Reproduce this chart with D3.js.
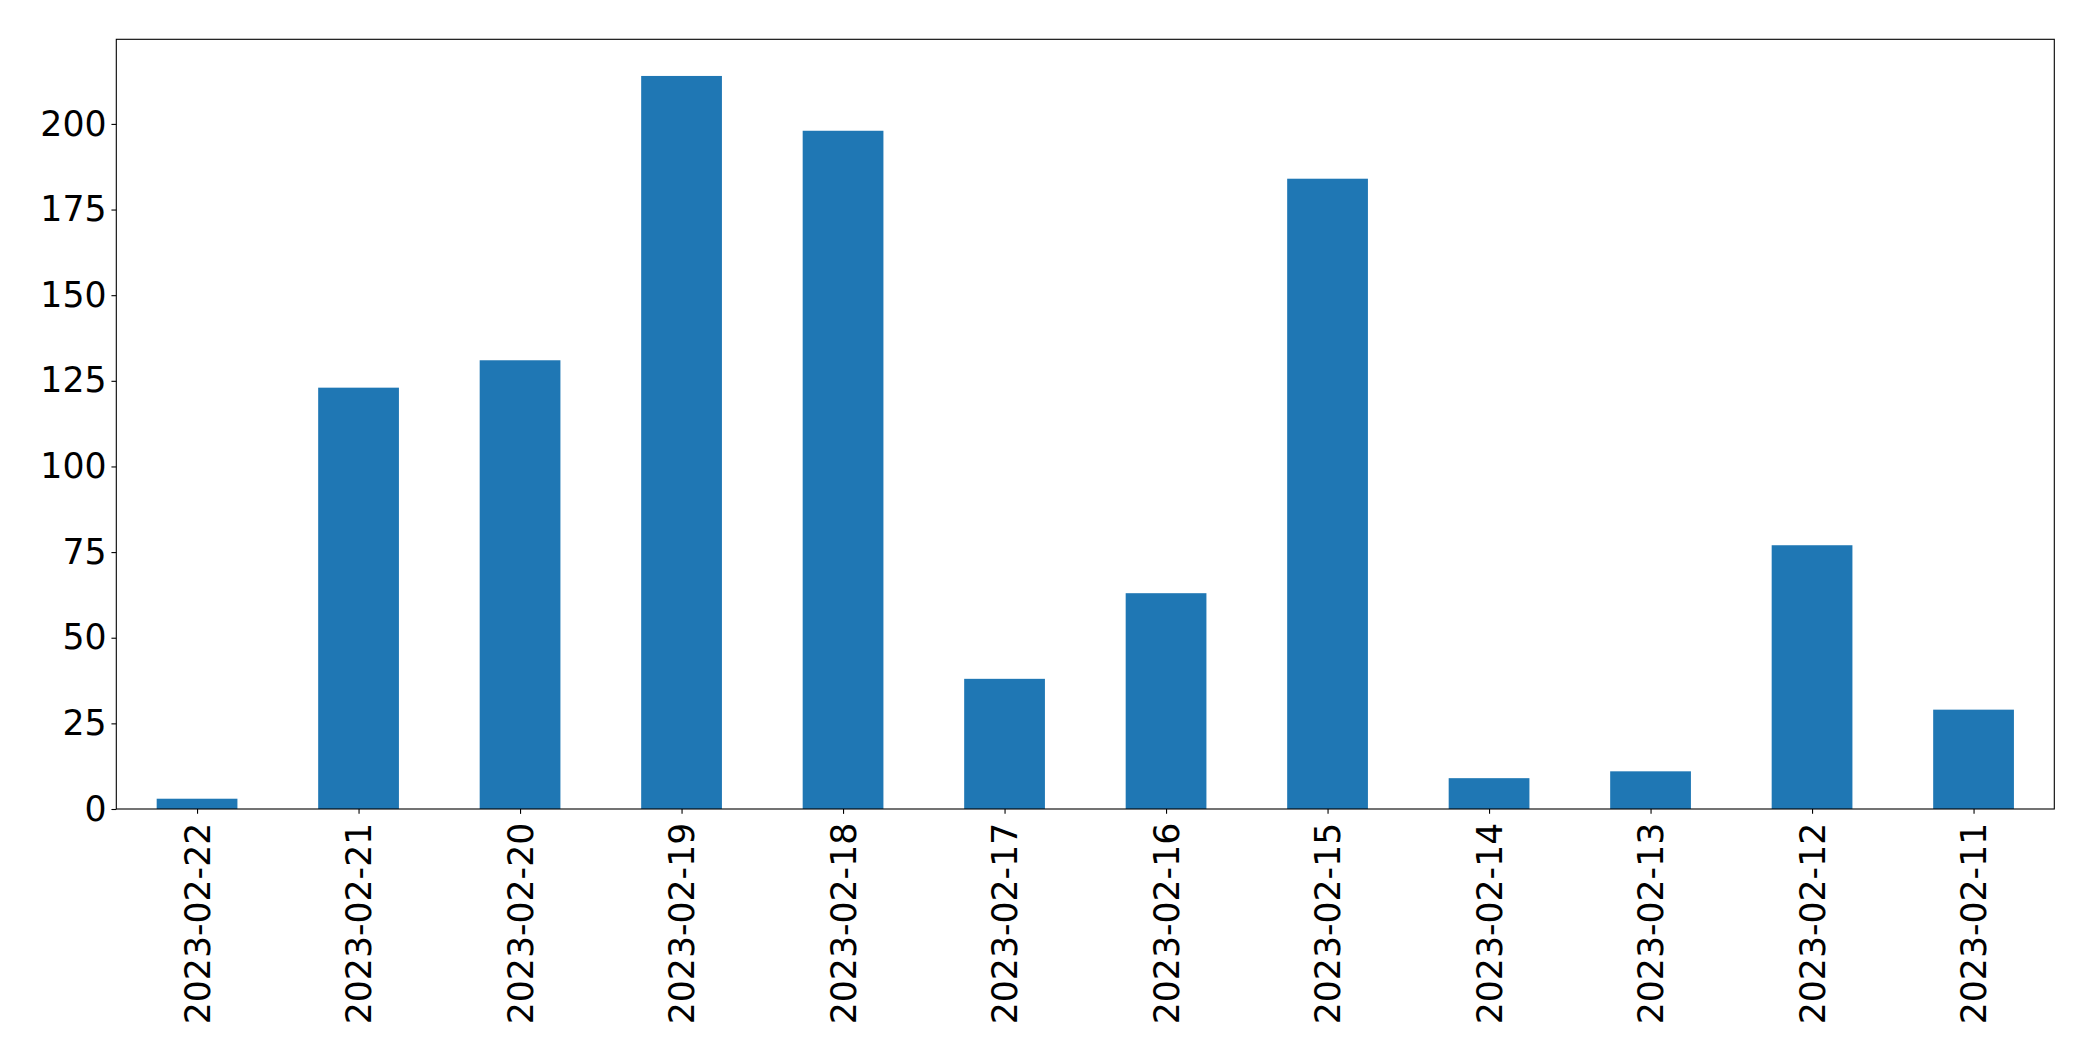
<!DOCTYPE html>
<html>
<head>
<meta charset="utf-8">
<script src="https://cdn.jsdelivr.net/npm/d3@7"></script>
<style>
  html, body { margin: 0; padding: 0; background: #fff; }
  svg { display: block; }
  text { font-family: "DejaVu Sans", sans-serif; fill: #000; }
</style>
</head>
<body>
<svg id="chart" width="2093" height="1061"></svg>
<script>
const categories = ["2023-02-22","2023-02-21","2023-02-20","2023-02-19","2023-02-18","2023-02-17","2023-02-16","2023-02-15","2023-02-14","2023-02-13","2023-02-12","2023-02-11"];
const values = [3, 123, 131, 214, 198, 38, 63, 184, 9, 11, 77, 29];
const yTicks = [0, 25, 50, 75, 100, 125, 150, 175, 200];

const M = { left: 116.3, right: 2054.3, top: 39.3, bottom: 809 };
const fontSize = 34.7;
const tickLen = 4.86, tickPad = 4.86;

const svg = d3.select("#chart");

const x = d3.scaleLinear().domain([-0.5, categories.length - 0.5]).range([M.left, M.right]);
const y = d3.scaleLinear().domain([0, d3.max(values) * 1.05]).range([M.bottom, M.top]);

// bars
svg.append("g").selectAll("rect").data(values).join("rect")
  .attr("x", (d, i) => x(i - 0.25))
  .attr("width", (d, i) => x(i + 0.25) - x(i - 0.25))
  .attr("y", d => y(d))
  .attr("height", d => y(0) - y(d))
  .attr("fill", "#1f77b4");

// y axis
const yAxis = d3.axisLeft(y).tickValues(yTicks).tickSize(tickLen).tickPadding(tickPad).tickFormat(d3.format("d"));
const gy = svg.append("g").attr("transform", `translate(${M.left},0)`).call(yAxis);
gy.select(".domain").remove();
gy.selectAll(".tick line").attr("stroke", "#000").attr("stroke-width", 1.1);
gy.selectAll(".tick text").attr("font-size", fontSize).attr("font-family", "DejaVu Sans");

// x axis
const xAxis = d3.axisBottom(x).tickValues(d3.range(categories.length)).tickSize(tickLen).tickPadding(tickPad).tickFormat(i => categories[i]);
const gx = svg.append("g").attr("transform", `translate(0,${M.bottom})`).call(xAxis);
gx.select(".domain").remove();
gx.selectAll(".tick line").attr("stroke", "#000").attr("stroke-width", 1.1);
gx.selectAll(".tick text")
  .attr("font-size", fontSize)
  .attr("font-family", "DejaVu Sans")
  .attr("x", 0)
  .attr("y", 0)
  .attr("dy", "0.35em")
  .attr("text-anchor", "end")
  .attr("transform", `translate(0,${tickLen + tickPad + 4}) rotate(-90)`);

// frame
svg.append("rect")
  .attr("x", M.left).attr("y", M.top)
  .attr("width", M.right - M.left).attr("height", M.bottom - M.top)
  .attr("fill", "none").attr("stroke", "#000").attr("stroke-width", 1.1);
</script>
</body>
</html>
